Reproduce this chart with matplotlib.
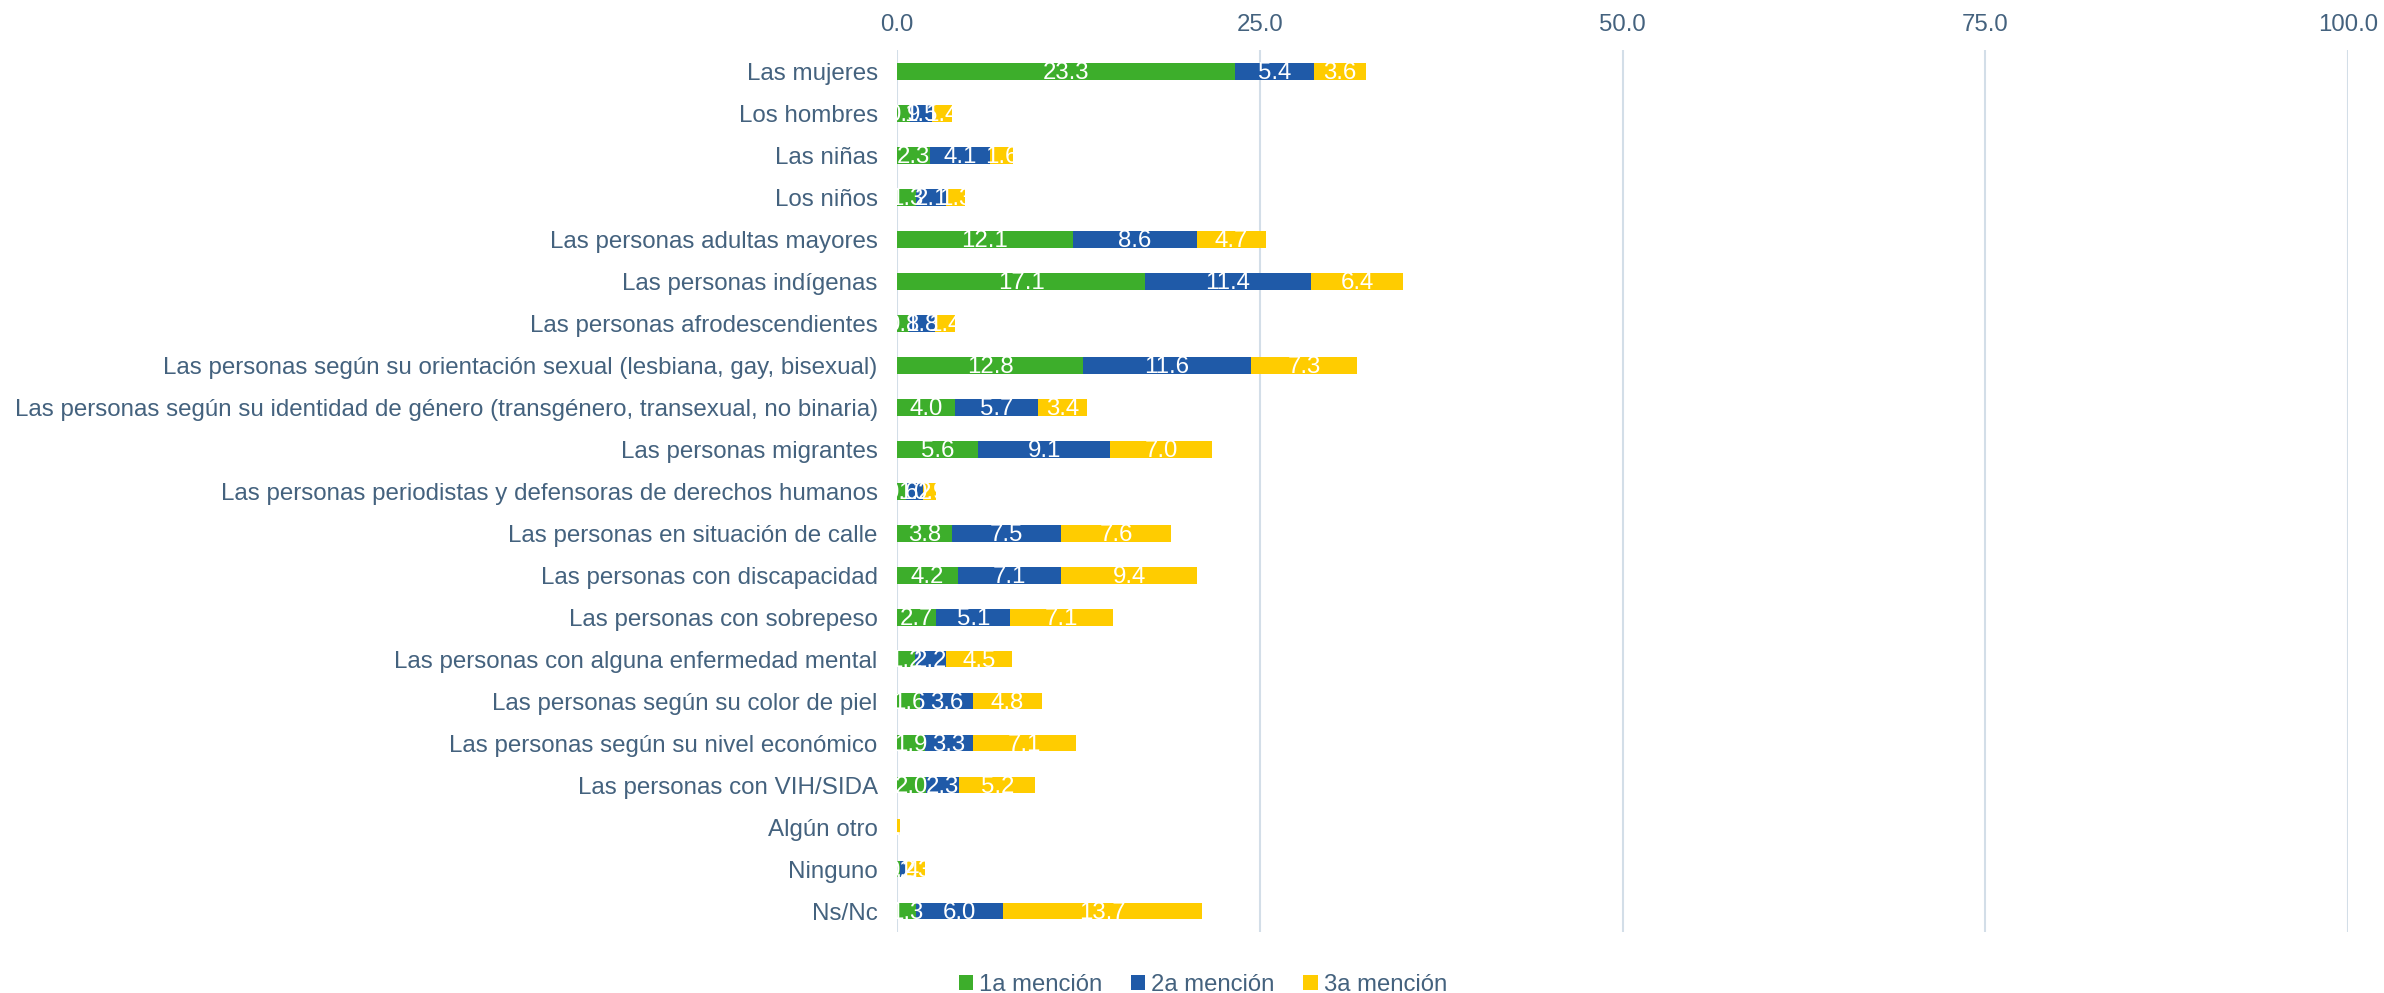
import matplotlib
matplotlib.use("Agg")
import matplotlib.pyplot as plt
import numpy as np

plt.rcParams["font.family"] = ["Liberation Sans", "DejaVu Sans"]

categories = [
    "Las mujeres",
    "Los hombres",
    "Las niñas",
    "Los niños",
    "Las personas adultas mayores",
    "Las personas indígenas",
    "Las personas afrodescendientes",
    "Las personas según su orientación sexual (lesbiana, gay, bisexual)",
    "Las personas según su identidad de género (transgénero, transexual, no binaria)",
    "Las personas migrantes",
    "Las personas periodistas y defensoras de derechos humanos",
    "Las personas en situación de calle",
    "Las personas con discapacidad",
    "Las personas con sobrepeso",
    "Las personas con alguna enfermedad mental",
    "Las personas según su color de piel",
    "Las personas según su nivel económico",
    "Las personas con VIH/SIDA",
    "Algún otro",
    "Ninguno",
    "Ns/Nc",
]
mencion_1 = [23.3, 0.9, 2.3, 1.3, 12.1, 17.1, 0.8, 12.8, 4.0, 5.6, 0.6,
             3.8, 4.2, 2.7, 1.2, 1.6, 1.9, 2.0, 0.0, 0.2, 1.3]
mencion_2 = [5.4, 1.5, 4.1, 2.1, 8.6, 11.4, 1.8, 11.6, 5.7, 9.1, 1.2,
             7.5, 7.1, 5.1, 2.2, 3.6, 3.3, 2.3, 0.0, 0.4, 6.0]
mencion_3 = [3.6, 1.4, 1.6, 1.3, 4.7, 6.4, 1.4, 7.3, 3.4, 7.0, 0.9,
             7.6, 9.4, 7.1, 4.5, 4.8, 7.1, 5.2, 0.2, 1.3, 13.7]
series_names = ["1a mención", "2a mención", "3a mención"]
colors = ["#3DAE2B", "#1F5AA8", "#FFCC00"]
xticks = [0, 25, 50, 75, 100]

text_color = "#44627E"
grid_color = "#D3DEE8"

fig = plt.figure(figsize=(23.84, 9.93), dpi=100)
ax = fig.add_axes([0.3763, 0.0614, 0.6086, 0.888])

y = np.arange(len(categories))
left = np.zeros(len(categories))
for vals, name, col in zip([mencion_1, mencion_2, mencion_3], series_names, colors):
    bars = ax.barh(y, vals, left=left, height=0.4, color=col, label=name, zorder=3)
    # white value labels centred in each segment (they overlap on tiny ones, as in the source)
    for v, b in zip(vals, bars):
        ax.text(b.get_x() + b.get_width() / 2, b.get_y() + b.get_height() / 2 + 0.04,
                f"{v:.1f}", ha="center", va="center", color="white",
                fontsize=17.3, zorder=4)
    left = left + np.array(vals)

ax.set_xlim(0, 100)
ax.set_ylim(len(categories) - 0.5, -0.5)
ax.set_xticks(xticks)
ax.set_xticklabels([f"{t:.1f}" for t in xticks])
ax.xaxis.tick_top()
ax.tick_params(axis="x", length=0, pad=10, labelsize=17.3, labelcolor=text_color)
ax.set_yticks(y)
ax.set_yticklabels(categories)
ax.tick_params(axis="y", length=0, pad=14, labelsize=17.4, labelcolor=text_color)
ax.grid(axis="x", color=grid_color, linewidth=1.5, zorder=0)
for s in ax.spines.values():
    s.set_visible(False)

leg = fig.legend(loc="center", bbox_to_anchor=(0.5045, 0.008), ncol=3, frameon=False,
                 handlelength=0.6, handleheight=0.6, handletextpad=0.25,
                 columnspacing=1.2, fontsize=17.2)
for t in leg.get_texts():
    t.set_color(text_color)

fig.savefig("out.png", dpi=100)
